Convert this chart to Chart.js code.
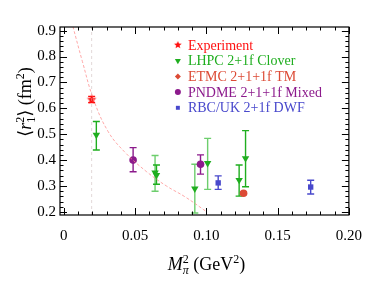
<!DOCTYPE html>
<html>
<head>
<meta charset="utf-8">
<script src="https://cdn.jsdelivr.net/npm/chart.js@4.4.1/dist/chart.umd.min.js"></script>
<style>
  html, body { margin: 0; padding: 0; background: #fff; }
</style>
</head>
<body>
<canvas id="c" width="374" height="281"></canvas>
<script>
// axis ranges and ticks
const xMin = -0.0027, xMax = 0.2;
const yMin = 0.188, yMax = 0.914;
const xTicks = [0, 0.05, 0.10, 0.15, 0.20];
const xTickLabels = ['0', '0.05', '0.10', '0.15', '0.20'];
const yTicks = [0.2, 0.3, 0.4, 0.5, 0.6, 0.7, 0.8, 0.9];
const yTickLabels = ['0.2', '0.3', '0.4', '0.5', '0.6', '0.7', '0.8', '0.9'];

// Experiment
const expX = [0.0195];
const expY = [0.634];
const expLo = [0.622];
const expHi = [0.646];

// LHPC 2+1f Clover
const lhpcX = [0.0228, 0.0640, 0.0650, 0.0919, 0.1009, 0.1230, 0.1275];
const lhpcY = [0.497, 0.352, 0.342, 0.290, 0.388, 0.323, 0.407];
const lhpcLo = [0.439, 0.280, 0.307, 0.196, 0.287, 0.261, 0.297];
const lhpcHi = [0.549, 0.418, 0.381, 0.384, 0.484, 0.381, 0.514];

// ETMC 2+1+1f TM
const etmcX = [0.1261];
const etmcY = [0.272];
const etmcLo = [0.267];
const etmcHi = [0.277];

// PNDME 2+1+1f Mixed
const pndmeX = [0.0486, 0.0959];
const pndmeY = [0.400, 0.384];
const pndmeLo = [0.355, 0.346];
const pndmeHi = [0.448, 0.420];

// RBC/UK 2+1f DWF
const rbcX = [0.1083, 0.1732];
const rbcY = [0.312, 0.296];
const rbcLo = [0.287, 0.269];
const rbcHi = [0.339, 0.322];

// dashed fit curve
const fitX = [0.0063, 0.0130, 0.0209, 0.0311, 0.0424, 0.0581, 0.0720, 0.0851, 0.0998];
const fitY = [0.917, 0.781, 0.633, 0.510, 0.433, 0.355, 0.300, 0.258, 0.202];

// vertical line at the physical pion mass
const physX = [0.0195, 0.0195];
const physY = [yMin, yMax];

const FONT = "'Liberation Serif', 'DejaVu Serif', serif";
const colExp = '#ff1010';
const colLhpc = '#1fae1f';
const colEtmc = '#dc4a35';
const colPndme = '#8c1a8c';
const colRbc = '#4848cc';
const lhpcBarColors = ['#1fae1f', 'rgba(60,190,60,0.75)', '#1fae1f', 'rgba(60,190,60,0.75)',
  'rgba(60,190,60,0.75)', '#1fae1f', '#1fae1f'];

function pts(xs, ys) {
  return xs.map((v, i) => ({ x: v, y: ys[i] }));
}

function starImage(r, color) {
  const c = document.createElement('canvas');
  c.width = c.height = 2 * r + 2;
  const g = c.getContext('2d');
  g.fillStyle = color;
  g.beginPath();
  for (let k = 0; k < 10; k++) {
    const rr = k % 2 ? r * 0.45 : r;
    const a = -Math.PI / 2 + k * Math.PI / 5;
    g.lineTo(r + 1 + rr * Math.cos(a), r + 1 + rr * Math.sin(a));
  }
  g.closePath();
  g.fill();
  return c;
}
const starBig = starImage(5, colExp);
const starSmall = starImage(4, colExp);

// error bars drawn under the markers
const errorBars = {
  id: 'errorBars',
  beforeDatasetsDraw(chart) {
    const { ctx, scales: { x, y }, chartArea: a } = chart;
    ctx.save();
    ctx.beginPath();
    ctx.rect(a.left, a.top, a.right - a.left, a.bottom - a.top);
    ctx.clip();
    chart.data.datasets.forEach(ds => {
      if (!ds.errLo) return;
      ds.data.forEach((p, i) => {
        const px = x.getPixelForValue(p.x);
        const lo = y.getPixelForValue(ds.errLo[i]);
        const hi = y.getPixelForValue(ds.errHi[i]);
        ctx.strokeStyle = ds.barColors ? ds.barColors[i] : ds.backgroundColor;
        ctx.lineWidth = 1.4;
        ctx.beginPath();
        ctx.moveTo(px, lo); ctx.lineTo(px, hi);
        ctx.moveTo(px - 3.5, lo); ctx.lineTo(px + 3.5, lo);
        ctx.moveTo(px - 3.5, hi); ctx.lineTo(px + 3.5, hi);
        ctx.stroke();
      });
    });
    ctx.restore();
  }
};

// frame with inward major and minor ticks on all four sides
const frameTicks = {
  id: 'frameTicks',
  afterDraw(chart) {
    const { ctx, scales: { x, y }, chartArea: a } = chart;
    ctx.save();
    ctx.strokeStyle = '#000';
    ctx.lineWidth = 1.2;
    ctx.strokeRect(a.left, a.top, a.right - a.left, a.bottom - a.top);
    ctx.lineWidth = 1;
    ctx.beginPath();
    for (let k = 0; k <= 20; k++) {
      const v = k * 0.01;
      const px = Math.round(x.getPixelForValue(v)) + 0.5;
      const len = k % 5 === 0 ? 7 : 3.5;
      ctx.moveTo(px, a.bottom); ctx.lineTo(px, a.bottom - len);
      ctx.moveTo(px, a.top); ctx.lineTo(px, a.top + len);
    }
    for (let k = 10; k <= 45; k++) {
      const v = k * 0.02;
      if (v < yMin || v > yMax) continue;
      const py = Math.round(y.getPixelForValue(v)) + 0.5;
      const len = k % 5 === 0 ? 7 : 3.5;
      ctx.moveTo(a.left, py); ctx.lineTo(a.left + len, py);
      ctx.moveTo(a.right, py); ctx.lineTo(a.right - len, py);
    }
    ctx.stroke();
    ctx.restore();
  }
};

// draws a run of text pieces with super/subscripts
function drawParts(ctx, parts) {
  let w = 0;
  parts.forEach(p => {
    ctx.font = p.font;
    p.w = ctx.measureText(p.t).width;
    if (!p.stack) w += p.w;
  });
  let cx = -w / 2;
  let lastX = cx;
  parts.forEach(p => {
    ctx.font = p.font;
    if (p.stack) {
      ctx.fillText(p.t, lastX, p.dy || 0);
    } else {
      lastX = cx;
      ctx.fillText(p.t, cx, p.dy || 0);
      cx += p.w;
    }
  });
}

const axisTitles = {
  id: 'axisTitles',
  afterDraw(chart) {
    const { ctx, chartArea: a } = chart;
    const big = '18px ' + FONT, bigI = 'italic 18px ' + FONT;
    const sm = '12px ' + FONT, smI = 'italic 12px ' + FONT;
    ctx.save();
    ctx.fillStyle = '#000';
    ctx.textBaseline = 'alphabetic';
    ctx.textAlign = 'left';
    ctx.translate((a.left + a.right) / 2 + 2, 270);
    drawParts(ctx, [
      { t: 'M', font: bigI },
      { t: '2', font: sm, dy: -7 },
      { t: 'π', font: smI, dy: 4, stack: true },
      { t: ' (GeV', font: big },
      { t: '2', font: sm, dy: -7 },
      { t: ')', font: big }
    ]);
    ctx.restore();

    ctx.save();
    ctx.fillStyle = '#000';
    ctx.textAlign = 'left';
    ctx.translate(31, 102);
    ctx.rotate(-Math.PI / 2);
    drawParts(ctx, [
      { t: '⟨', font: big },
      { t: 'r', font: bigI },
      { t: '2', font: sm, dy: -7 },
      { t: '1', font: sm, dy: 4, stack: true },
      { t: '⟩', font: big },
      { t: ' (fm', font: big },
      { t: '2', font: sm, dy: -7 },
      { t: ')', font: big }
    ]);
    ctx.restore();
  }
};

const legendItems = [
  { label: 'Experiment', color: colExp, style: starSmall, rot: 0, r: 4 },
  { label: 'LHPC 2+1f Clover', color: colLhpc, style: 'triangle', rot: 180, r: 3.5 },
  { label: 'ETMC 2+1+1f TM', color: colEtmc, style: 'rectRot', rot: 0, r: 3 },
  { label: 'PNDME 2+1+1f Mixed', color: colPndme, style: 'circle', rot: 0, r: 3 },
  { label: 'RBC/UK 2+1f DWF', color: colRbc, style: 'rect', rot: 0, r: 2.8 }
];

const legendBox = {
  id: 'legendBox',
  afterDraw(chart) {
    const { ctx, chartArea: a } = chart;
    ctx.save();
    ctx.font = '14px ' + FONT;
    ctx.textBaseline = 'middle';
    ctx.textAlign = 'left';
    legendItems.forEach((it, i) => {
      const yy = a.top + 18 + i * 15.7;
      const mx = a.right - 171;
      ctx.fillStyle = it.color;
      ctx.strokeStyle = it.color;
      Chart.helpers.drawPoint(ctx, { pointStyle: it.style, rotation: it.rot, radius: it.r, borderWidth: 0 }, mx, yy);
      ctx.fillStyle = it.color;
      ctx.fillText(it.label, mx + 10, yy + 1);
    });
    ctx.restore();
  }
};

new Chart(document.getElementById('c'), {
  type: 'scatter',
  data: {
    datasets: [
      {
        type: 'line', data: pts(fitX, fitY), borderColor: 'rgba(255,140,140,0.75)',
        borderWidth: 1, borderDash: [3, 2], pointRadius: 0, tension: 0.4, fill: false
      },
      {
        type: 'line', data: pts(physX, physY), borderColor: 'rgba(200,180,180,0.5)',
        borderWidth: 1, borderDash: [3, 3], pointRadius: 0, fill: false
      },
      {
        data: pts(expX, expY), errLo: expLo, errHi: expHi, backgroundColor: colExp,
        pointStyle: starBig, pointRadius: 5
      },
      {
        data: pts(lhpcX, lhpcY), errLo: lhpcLo, errHi: lhpcHi, barColors: lhpcBarColors,
        backgroundColor: colLhpc, borderColor: colLhpc, pointStyle: 'triangle', rotation: 180,
        pointRadius: 4.3, borderWidth: 0
      },
      {
        data: pts(etmcX, etmcY), errLo: etmcLo, errHi: etmcHi, backgroundColor: colEtmc,
        borderColor: colEtmc, pointStyle: 'circle', pointRadius: 3.8, borderWidth: 0
      },
      {
        data: pts(pndmeX, pndmeY), errLo: pndmeLo, errHi: pndmeHi, backgroundColor: colPndme,
        borderColor: colPndme, pointStyle: 'circle', pointRadius: 3.8, borderWidth: 0
      },
      {
        data: pts(rbcX, rbcY), errLo: rbcLo, errHi: rbcHi, backgroundColor: colRbc,
        borderColor: colRbc, pointStyle: 'rect', pointRadius: 3.8, borderWidth: 0
      }
    ]
  },
  options: {
    responsive: false,
    animation: false,
    devicePixelRatio: 1,
    layout: { padding: { top: 27, right: 14, left: 0, bottom: 0 } },
    plugins: { legend: { display: false }, tooltip: { enabled: false } },
    scales: {
      x: {
        type: 'linear', min: xMin, max: xMax,
        grid: { display: false, drawTicks: false },
        border: { display: false },
        afterBuildTicks: s => { s.ticks = xTicks.map(v => ({ value: v })); },
        afterFit: s => { s.height = 66; },
        ticks: {
          autoSkip: false, maxRotation: 0, padding: 12, color: '#000',
          font: { family: FONT, size: 15 },
          callback: (v, i) => xTickLabels[i]
        }
      },
      y: {
        type: 'linear', min: yMin, max: yMax,
        grid: { display: false, drawTicks: false },
        border: { display: false },
        afterBuildTicks: s => { s.ticks = yTicks.map(v => ({ value: v })); },
        afterFit: s => { s.width = 60; },
        ticks: {
          autoSkip: false, padding: 4, color: '#000',
          font: { family: FONT, size: 15 },
          callback: (v, i) => yTickLabels[i]
        }
      }
    }
  },
  plugins: [errorBars, frameTicks, axisTitles, legendBox]
});
</script>
</body>
</html>
